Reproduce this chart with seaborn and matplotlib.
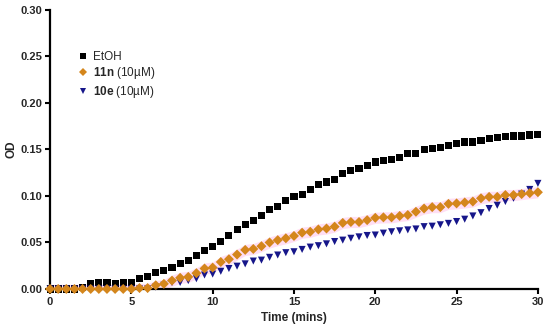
import numpy as np
import pandas as pd
import matplotlib
matplotlib.use('Agg')
import matplotlib.pyplot as plt
import seaborn as sns

# time points (every 30 s over 30 min)
time = np.arange(0, 30.5, 0.5)

etoh = [0, 0, 0, 0, 0.002, 0.006, 0.007, 0.007, 0.006, 0.007,
        0.007, 0.011, 0.0135, 0.018, 0.020, 0.023, 0.027, 0.031, 0.036, 0.041,
        0.046, 0.051, 0.057, 0.064, 0.069, 0.074, 0.079, 0.085, 0.089, 0.095,
        0.099, 0.102, 0.1065, 0.1125, 0.115, 0.118, 0.124, 0.127, 0.130, 0.133,
        0.1365, 0.138, 0.1395, 0.1415, 0.1455, 0.1455, 0.1495, 0.1515, 0.152, 0.1545,
        0.1565, 0.158, 0.158, 0.1595, 0.1615, 0.1625, 0.1635, 0.1645, 0.1645, 0.1655,
        0.1665]

c11n = [0, 0, 0, 0, 0, 0, 0, 0, 0, 0,
        0, 0.001, 0.001, 0.004, 0.0055, 0.009, 0.012, 0.013, 0.017, 0.022,
        0.023, 0.029, 0.032, 0.037, 0.042, 0.043, 0.046, 0.050, 0.0525, 0.0545,
        0.057, 0.0605, 0.0615, 0.064, 0.065, 0.067, 0.071, 0.072, 0.072, 0.074,
        0.0765, 0.077, 0.077, 0.0785, 0.0795, 0.083, 0.0865, 0.088, 0.088, 0.0915,
        0.092, 0.093, 0.094, 0.0975, 0.099, 0.099, 0.101, 0.101, 0.102, 0.103,
        0.104]

# error band for 11n (pink)
c11n_err = [0.005, 0.005, 0.005, 0.005, 0.005, 0.005, 0.005, 0.005, 0.005, 0.005,
            0.005, 0.005, 0.005, 0.005, 0.005, 0.006, 0.006, 0.006, 0.006, 0.006,
            0.006, 0.006, 0.006, 0.006, 0.006, 0.006, 0.006, 0.006, 0.006, 0.006,
            0.006, 0.006, 0.006, 0.006, 0.006, 0.006, 0.006, 0.006, 0.006, 0.006,
            0.006, 0.006, 0.006, 0.006, 0.006, 0.006, 0.006, 0.006, 0.006, 0.006,
            0.006, 0.006, 0.006, 0.006, 0.006, 0.006, 0.006, 0.006, 0.006, 0.006,
            0.006]

c10e = [0, 0, 0, 0, 0, 0, 0, 0, 0, 0,
        0, 0, 0, 0.002, 0.004, 0.007, 0.007, 0.009, 0.011, 0.015,
        0.016, 0.019, 0.022, 0.0245, 0.027, 0.030, 0.031, 0.034, 0.0365, 0.039,
        0.040, 0.0425, 0.045, 0.0465, 0.0485, 0.051, 0.0525, 0.0545, 0.056, 0.0575,
        0.058, 0.060, 0.0615, 0.0625, 0.0635, 0.0645, 0.067, 0.0675, 0.069, 0.0705,
        0.0725, 0.075, 0.0785, 0.082, 0.0865, 0.090, 0.094, 0.0975, 0.102, 0.107,
        0.1135]

labels = ['EtOH', r'$\bf{11n}$ (10µM)', r'$\bf{10e}$ (10µM)']
colors = ['#000000', '#D4861C', '#16168A']

sns.set_style('ticks')
plt.rcParams['font.family'] = ['Liberation Sans', 'DejaVu Sans']
plt.rcParams['mathtext.fontset'] = 'custom'
plt.rcParams['mathtext.rm'] = 'Liberation Sans'
plt.rcParams['mathtext.bf'] = 'Liberation Sans:bold'

# long-form table; 11n last so it sits on top
df = pd.concat([
    pd.DataFrame({'Time': time, 'OD': etoh, 'Sample': labels[0]}),
    pd.DataFrame({'Time': time, 'OD': c10e, 'Sample': labels[2]}),
    pd.DataFrame({'Time': time, 'OD': c11n, 'Sample': labels[1]}),
], ignore_index=True)

fig = plt.figure(figsize=(5.5, 3.31), dpi=100)
ax = fig.add_axes([0.091, 0.127, 0.887, 0.843])

lo = np.array(c11n) - np.array(c11n_err)
hi = np.array(c11n) + np.array(c11n_err)
ax.fill_between(time, lo, hi, color='#FFD6F0', alpha=0.8, lw=0, zorder=1)

sns.scatterplot(data=df, x='Time', y='OD', hue='Sample', style='Sample',
                hue_order=labels, style_order=labels,
                palette=dict(zip(labels, colors)),
                markers=dict(zip(labels, ['s', 'D', 'v'])),
                s=26, linewidth=0, clip_on=False, zorder=3, ax=ax)

ax.set_xlim(0, 30)
ax.set_ylim(0, 0.30)
ax.set_xticks([0, 5, 10, 15, 20, 25, 30])
ax.set_yticks([0, 0.05, 0.10, 0.15, 0.20, 0.25, 0.30])
ax.set_yticklabels(['0.00', '0.05', '0.10', '0.15', '0.20', '0.25', '0.30'])
for lab in ax.get_xticklabels() + ax.get_yticklabels():
    lab.set_fontweight('bold')
ax.tick_params(labelsize=8, width=1.5, length=3.5, pad=2, color='black')
for side in ['left', 'bottom']:
    ax.spines[side].set_linewidth(1.6)
    ax.spines[side].set_color('black')
sns.despine(ax=ax)

ax.set_xlabel('Time (mins)', fontsize=8.5, fontweight='bold', labelpad=4)
ax.set_ylabel('OD', fontsize=8.5, fontweight='bold')
ax.yaxis.set_label_coords(-0.066, 0.5)

leg = ax.legend(loc='upper left', bbox_to_anchor=(0.041, 0.875), frameon=False,
                fontsize=8.5, handletextpad=0.25, labelspacing=0.22,
                borderpad=0, handlelength=1.2, markerscale=0.85)

plt.savefig('out.png', dpi=100)
